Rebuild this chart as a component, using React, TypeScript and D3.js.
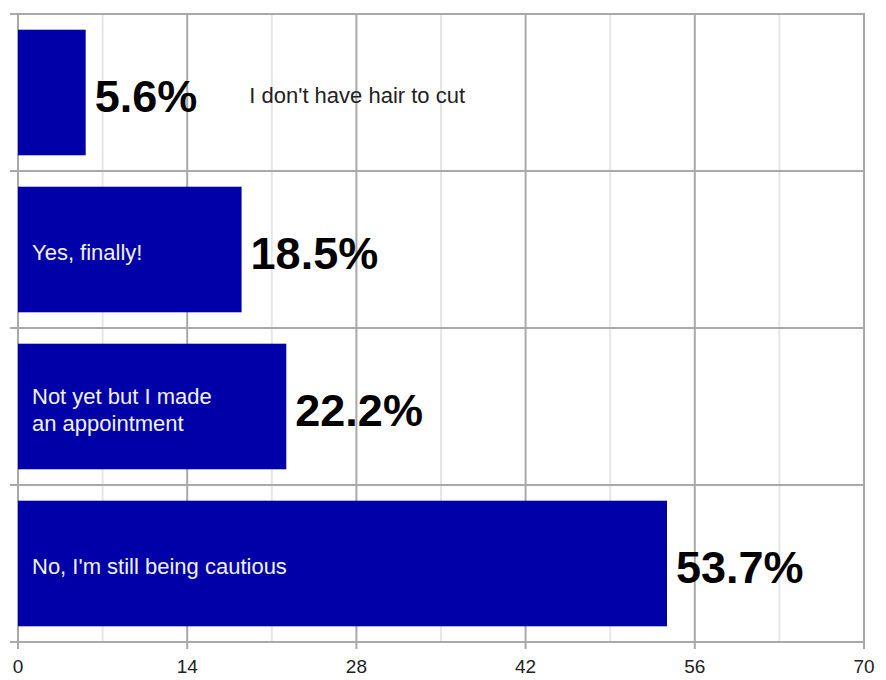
import React, { useEffect, useRef } from "react";
import * as d3 from "d3";

const categories: string[][] = [
  ["I don't have hair to cut"],
  ["Yes, finally!"],
  ["Not yet but I made", "an appointment"],
  ["No, I'm still being cautious"],
];
const values: number[] = [5.6, 18.5, 22.2, 53.7];
const labelInside: boolean[] = [false, true, true, true];
const majorTicks: number[] = [0, 14, 28, 42, 56, 70];
const minorTicks: number[] = [7, 21, 35, 49, 63];

const W = 886;
const H = 680;
const FONT = "'Liberation Sans', Arial, sans-serif";

export default function App() {
  const ref = useRef<SVGSVGElement | null>(null);

  useEffect(() => {
    document.body.style.margin = "0";
    const svg = d3.select(ref.current!);
    svg.selectAll("*").remove();

    const left = 18, right = 864, top = 14, bottom = 642;
    const x = d3.scaleLinear().domain([0, 70]).range([left, right]);
    const y = d3
      .scaleBand<number>()
      .domain(d3.range(values.length))
      .range([top, bottom])
      .paddingInner(0.2)
      .paddingOuter(0.1);
    const bandStep = y.step();

    svg.append("rect").attr("width", W).attr("height", H).attr("fill", "#fff");

    const gGrid = svg.append("g");
    const gBars = svg.append("g");
    const gLabels = svg.append("g");

    minorTicks.forEach((t) => {
      gGrid
        .append("line")
        .attr("x1", x(t)).attr("x2", x(t))
        .attr("y1", top).attr("y2", bottom)
        .attr("stroke", "#e6e6e6")
        .attr("stroke-width", 2);
    });
    d3.range(values.length + 1).forEach((k) => {
      const yy = top + k * bandStep;
      gGrid
        .append("line")
        .attr("x1", 10).attr("x2", right + 1)
        .attr("y1", yy).attr("y2", yy)
        .attr("stroke", "#a9a9a9")
        .attr("stroke-width", 2);
    });
    majorTicks.forEach((t) => {
      gGrid
        .append("line")
        .attr("x1", x(t)).attr("x2", x(t))
        .attr("y1", top).attr("y2", bottom + 7)
        .attr("stroke", "#a9a9a9")
        .attr("stroke-width", 2);
      svg
        .append("text")
        .attr("x", x(t))
        .attr("y", 666)
        .attr("text-anchor", "middle")
        .attr("dominant-baseline", "central")
        .attr("font-family", FONT)
        .attr("font-size", 19)
        .attr("fill", "#222")
        .text(String(t));
    });

    values.forEach((v, i) => {
      gBars
        .append("rect")
        .attr("x", x(0))
        .attr("y", y(i) as number)
        .attr("width", x(v) - x(0))
        .attr("height", y.bandwidth())
        .attr("fill", "#0000a9");
    });

    values.forEach((v, i) => {
      const cy = (y(i) as number) + y.bandwidth() / 2;
      const vt = gLabels
        .append("text")
        .attr("x", x(v) + 9)
        .attr("y", cy + 4)
        .attr("dominant-baseline", "central")
        .attr("font-family", FONT)
        .attr("font-weight", "bold")
        .attr("font-size", 45)
        .attr("fill", "#000")
        .text(`${v}%`);
      const vEnd = x(v) + 9 + (vt.node() as SVGTextElement).getComputedTextLength();
      const lines = categories[i];
      const inside = labelInside[i];
      const tx = inside ? left + 14 : vEnd + 52;
      const lh = 27;
      lines.forEach((ln, j) => {
        gLabels
          .append("text")
          .attr("x", tx)
          .attr("y", cy + 3 + (j - (lines.length - 1) / 2) * lh)
          .attr("dominant-baseline", "central")
          .attr("font-family", FONT)
          .attr("font-size", 22)
          .attr("fill", inside ? "#f2f2f2" : "#222")
          .text(ln);
      });
    });
  }, []);

  return <svg ref={ref} width={W} height={H} style={{ display: "block" }} />;
}
